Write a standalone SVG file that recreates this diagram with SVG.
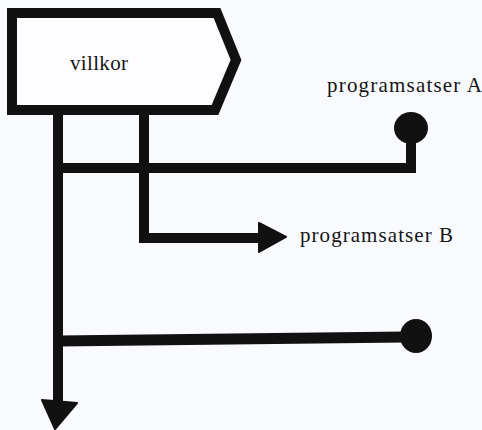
<svg xmlns="http://www.w3.org/2000/svg" width="482" height="430" viewBox="0 0 482 430">
<style>
.ln{fill:none;stroke:#111;stroke-width:10;stroke-linejoin:miter;stroke-linecap:butt}
.hd{fill:#111;stroke:#111;stroke-width:2;stroke-linejoin:round}
.tx{font-family:"Liberation Serif","Times New Roman",serif;font-size:21px;fill:#151515}
</style>
<rect width="482" height="430" fill="#f9fafe"/>
<g id="connectors">
<path class="ln" d="M58,110 V402"/>
<path class="hd" d="M42,400 L77,403 L55,429 Z"/>
<path class="ln" d="M144,110 V238 H262"/>
<path class="hd" d="M259,223 L286,237 L259,252 Z"/>
<path class="ln" d="M58,168 H411 V135"/>
<ellipse class="hd" cx="411" cy="128" rx="16" ry="15"/>
<path class="ln" d="M58,341 L405,337" style="stroke-width:11"/>
<ellipse class="hd" cx="416" cy="336" rx="15" ry="16"/>
</g>
<g id="villkor">
<path class="ln" d="M12,13 H217 L236,60 L215,110 H12 Z" style="fill:#fdfdff"/>
<text class="tx" x="70" y="70" textLength="58">villkor</text>
</g>
<g id="programsatserA">
<text class="tx" x="327" y="92" textLength="155">programsatser A</text>
</g>
<g id="programsatserB">
<text class="tx" x="300" y="242" textLength="153">programsatser B</text>
</g>
</svg>
